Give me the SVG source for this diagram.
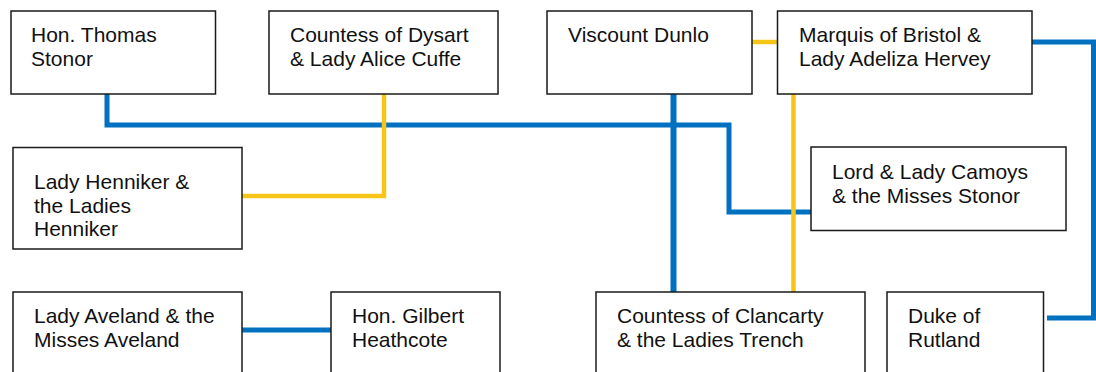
<svg xmlns="http://www.w3.org/2000/svg" width="1096" height="372" viewBox="0 0 1096 372">
  <style>
    .box { fill: #ffffff; stroke: #1a1a1a; stroke-width: 1.5; }
    .lbl { font-family: "Liberation Sans", Arial, sans-serif; font-size: 21px; fill: #111111; }
    .blue { fill: none; stroke: #0070C0; stroke-width: 5; stroke-linejoin: miter; stroke-linecap: butt; }
    .blue-thick { fill: none; stroke: #0070C0; stroke-width: 6; stroke-linecap: butt; }
    .yellow { fill: none; stroke: #F5C518; stroke-width: 4.5; stroke-linejoin: miter; stroke-linecap: butt; }
  </style>
  <rect width="1096" height="372" fill="#ffffff"/>

  <g id="connectors">
    <path class="blue" d="M107,94 V125 H729 V212 H811"/>
    <path class="yellow" d="M384,94 V196 H242"/>
    <path class="blue-thick" d="M673.5,94 V292"/>
    <path class="yellow" d="M752,42 H777.5"/>
    <path class="yellow" d="M793.5,94 V292"/>
    <path class="blue" d="M1032,42 H1093.5 V318 H1047"/>
    <path class="blue" d="M242,330 H331"/>
  </g>

  <g id="node-thomas-stonor">
    <rect class="box" x="11" y="11" width="204.5" height="83"/>
    <text class="lbl" x="31" y="42">Hon. Thomas</text>
    <text class="lbl" x="31" y="66">Stonor</text>
  </g>
  <g id="node-dysart">
    <rect class="box" x="269" y="11" width="229" height="83"/>
    <text class="lbl" x="290" y="42">Countess of Dysart</text>
    <text class="lbl" x="290" y="66">&amp; Lady Alice Cuffe</text>
  </g>
  <g id="node-dunlo">
    <rect class="box" x="547" y="11" width="205" height="83"/>
    <text class="lbl" x="568" y="42">Viscount Dunlo</text>
  </g>
  <g id="node-bristol">
    <rect class="box" x="777.5" y="11" width="254.5" height="83"/>
    <text class="lbl" x="799" y="42">Marquis of Bristol &amp;</text>
    <text class="lbl" x="799" y="66">Lady Adeliza Hervey</text>
  </g>
  <g id="node-henniker">
    <rect class="box" x="13" y="147.5" width="229" height="101.5"/>
    <text class="lbl" x="34" y="189">Lady Henniker &amp;</text>
    <text class="lbl" x="34" y="212.5">the Ladies</text>
    <text class="lbl" x="34" y="236">Henniker</text>
  </g>
  <g id="node-camoys">
    <rect class="box" x="811" y="147" width="255" height="83.5"/>
    <text class="lbl" x="832" y="179">Lord &amp; Lady Camoys</text>
    <text class="lbl" x="832" y="203">&amp; the Misses Stonor</text>
  </g>
  <g id="node-aveland">
    <rect class="box" x="13" y="292" width="229" height="90"/>
    <text class="lbl" x="34" y="323">Lady Aveland &amp; the</text>
    <text class="lbl" x="34" y="347">Misses Aveland</text>
  </g>
  <g id="node-heathcote">
    <rect class="box" x="331" y="292" width="169" height="90"/>
    <text class="lbl" x="352" y="323">Hon. Gilbert</text>
    <text class="lbl" x="352" y="347">Heathcote</text>
  </g>
  <g id="node-clancarty">
    <rect class="box" x="596" y="292" width="269" height="90"/>
    <text class="lbl" x="617" y="323">Countess of Clancarty</text>
    <text class="lbl" x="617" y="347">&amp; the Ladies Trench</text>
  </g>
  <g id="node-rutland">
    <rect class="box" x="887" y="292" width="156.5" height="90"/>
    <text class="lbl" x="908" y="323">Duke of</text>
    <text class="lbl" x="908" y="347">Rutland</text>
  </g>
</svg>
